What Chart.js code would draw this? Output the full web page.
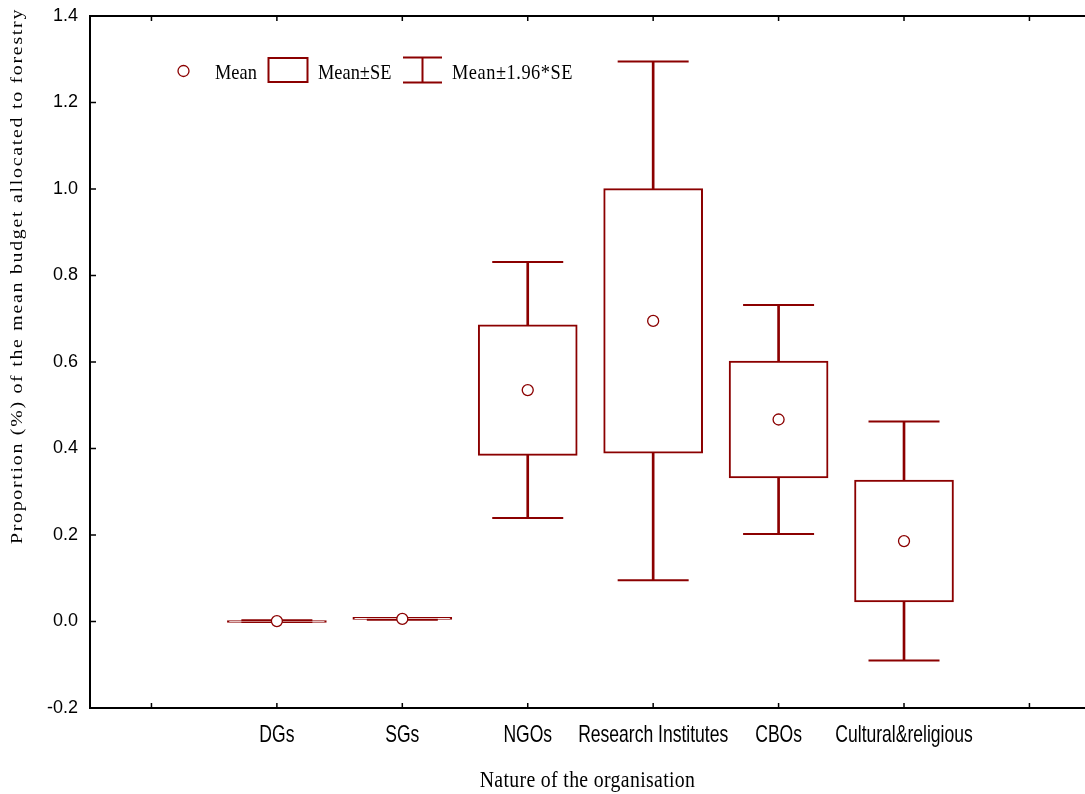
<!DOCTYPE html>
<html>
<head>
<meta charset="utf-8">
<title>Mean budget allocated to forestry by organisation</title>
<script src="https://cdn.jsdelivr.net/npm/chart.js@4/dist/chart.umd.min.js"></script>
<style>
    html, body { margin: 0; padding: 0; background: #fff; }
    #wrap { width: 1085px; height: 794px; position: relative; }
</style>
</head>
<body>
<div id="wrap"><canvas id="budget-chart"></canvas></div>
<script>
'use strict';

/* ── Data ── */
var orgLabels   = ['DGs', 'SGs', 'NGOs', 'Research Institutes', 'CBOs', 'Cultural&religious'];
var orgSlots    = [1, 2, 3, 4, 5, 6];            // slots 0 and 7 stay empty
var meanValues  = [0.001, 0.006, 0.535, 0.695, 0.467, 0.186];
var seValues    = [0.001, 0.001, 0.151, 0.306, 0.135, 0.141];
var xTickValues = [0, 1, 2, 3, 4, 5, 6, 7];
var yTickValues = [-0.2, 0.0, 0.2, 0.4, 0.6, 0.8, 1.0, 1.2, 1.4];

var DARK_RED = '#8b0000';
var SANS  = '"Liberation Sans", Arial, sans-serif';
var SERIF = '"Liberation Serif", "Times New Roman", serif';

/* ── Build box / whisker / mean points ── */
var boxData = [], stemData = [], capData = [], meanData = [];
for (var i = 0; i < orgLabels.length; i++) {
    var m = meanValues[i], se = seValues[i], x = orgSlots[i];
    boxData.push({ x: x, y: [m - se, m + se] });
    stemData.push({ x: x, y: [m - 1.96 * se, m + 1.96 * se] });
    capData.push({ x: x, y: m - 1.96 * se }, { x: x, y: m + 1.96 * se });
    meanData.push({ x: x, y: m });
}

/* stretched text helper (hscale squeezes or widens glyphs) */
function drawText(ctx, txt, x, y, font, hscale, align, spacing) {
    ctx.save();
    ctx.translate(x, y);
    ctx.scale(hscale, 1);
    ctx.font = font;
    ctx.textAlign = align || 'left';
    ctx.textBaseline = 'alphabetic';
    if (spacing) ctx.letterSpacing = spacing + 'px';
    ctx.fillStyle = '#000';
    ctx.fillText(txt, 0, 0);
    ctx.restore();
}

/* ── Frame, inner ticks, labels, titles and legend ── */
var plotDecor = {
    id: 'plotDecor',
    afterDraw: function(chart) {
        var ctx = chart.ctx, a = chart.chartArea;
        var xs = chart.scales.x, ys = chart.scales.y;

        ctx.save();
        ctx.strokeStyle = '#000';
        ctx.lineWidth = 2;
        ctx.beginPath();
        ctx.moveTo(a.left - 1, a.top);
        ctx.lineTo(a.right, a.top);
        ctx.stroke();

        ctx.lineWidth = 1.5;
        ctx.beginPath();
        xs.ticks.forEach(function(t) {
            var px = xs.getPixelForValue(t.value);
            ctx.moveTo(px, a.bottom); ctx.lineTo(px, a.bottom - 5);
            ctx.moveTo(px, a.top);    ctx.lineTo(px, a.top + 5);
        });
        ys.ticks.forEach(function(t) {
            var py = ys.getPixelForValue(t.value);
            ctx.moveTo(a.left, py); ctx.lineTo(a.left + 6, py);
        });
        ctx.stroke();
        ctx.restore();

        // category labels under the axis
        orgLabels.forEach(function(lbl, k) {
            drawText(ctx, lbl, xs.getPixelForValue(orgSlots[k]), 742, '24px ' + SANS, 0.73, 'center');
        });

        // axis titles
        drawText(ctx, 'Nature of the organisation', (a.left + a.right) / 2, 787, '23px ' + SERIF, 0.86, 'center', 0.4);
        ctx.save();
        ctx.translate(22, 276);
        ctx.rotate(-Math.PI / 2);
        drawText(ctx, 'Proportion (%) of the mean budget allocated to forestry', 0, 0, '16px ' + SERIF, 1.24, 'center', 1.4);
        ctx.restore();

        // legend
        ctx.save();
        ctx.strokeStyle = DARK_RED;
        ctx.lineWidth = 1.3;
        ctx.beginPath();
        ctx.arc(183.5, 71, 5.5, 0, Math.PI * 2);
        ctx.stroke();
        ctx.lineWidth = 2;
        ctx.strokeRect(268.5, 58, 39, 24);
        ctx.beginPath();
        ctx.moveTo(403, 57.5); ctx.lineTo(442, 57.5);
        ctx.moveTo(403, 82.5); ctx.lineTo(442, 82.5);
        ctx.moveTo(422.5, 57.5); ctx.lineTo(422.5, 82.5);
        ctx.stroke();
        ctx.restore();
        drawText(ctx, 'Mean',              215, 79, '21px ' + SERIF, 0.875);
        drawText(ctx, 'Mean\u00b1SE',      318, 79, '21px ' + SERIF, 0.875);
        drawText(ctx, 'Mean\u00b11.96*SE', 452, 79, '21px ' + SERIF, 0.875, 'left', 0.6);
    }
};

/* ── Chart ── */
new Chart(document.getElementById('budget-chart'), {
    type: 'bar',
    data: {
        datasets: [
            { type: 'scatter', label: 'Mean', data: meanData, order: 0,
              pointStyle: 'circle', pointRadius: 5.5, pointHoverRadius: 5.5,
              pointBackgroundColor: '#fff', pointBorderColor: DARK_RED, pointBorderWidth: 1.3 },
            { label: 'Mean\u00b1SE', data: boxData, order: 1, grouped: false,
              backgroundColor: '#fff', borderColor: DARK_RED, borderWidth: 2,
              borderSkipped: false, barThickness: 99, minBarLength: 2 },
            { label: 'Mean\u00b11.96*SE', data: stemData, order: 2, grouped: false,
              backgroundColor: DARK_RED, borderWidth: 0, barThickness: 2 },
            { type: 'scatter', label: 'caps', data: capData, order: 2,
              pointStyle: 'line', pointRadius: 35.5, pointHoverRadius: 35.5,
              pointBorderColor: DARK_RED, pointBorderWidth: 2 }
        ]
    },
    options: {
        responsive: true,
        maintainAspectRatio: false,
        animation: false,
        events: [],
        layout: { autoPadding: false, padding: { top: 16, left: 0, right: 0, bottom: 0 } },
        plugins: { legend: { display: false }, tooltip: { enabled: false } },
        scales: {
            x: {
                type: 'linear', min: -0.49, max: 7.443, offset: false,
                afterBuildTicks: function(s) { s.ticks = xTickValues.map(function(v) { return { value: v }; }); },
                afterFit: function(s) { s.height = 86; s.paddingLeft = 0; s.paddingRight = 0; },
                grid: { display: false, drawTicks: false },
                border: { display: true, color: '#000', width: 2 },
                ticks: { display: false }
            },
            y: {
                min: -0.2, max: 1.4,
                afterBuildTicks: function(s) { s.ticks = yTickValues.map(function(v) { return { value: v }; }); },
                afterFit: function(s) { s.width = 90; s.paddingTop = 0; s.paddingBottom = 0; },
                grid: { display: false, drawTicks: false },
                border: { display: true, color: '#000', width: 2 },
                ticks: {
                    padding: 12, color: '#000',
                    font: { family: SANS, size: 18 },
                    callback: function(v) { return Number(v).toFixed(1); }
                }
            }
        }
    },
    plugins: [plotDecor]
});
</script>
</body>
</html>
